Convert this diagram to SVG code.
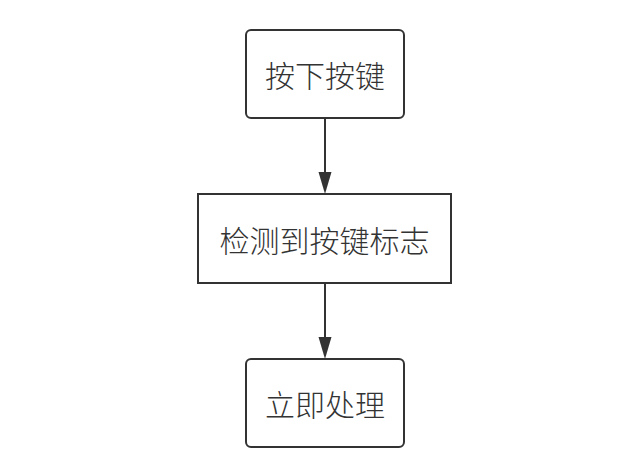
<svg xmlns="http://www.w3.org/2000/svg" width="622" height="472" viewBox="0 0 622 472">
<style>
.box{fill:#fff;stroke:#333;stroke-width:2}
.lbl{font-family:"Noto Sans CJK SC","Noto Sans",sans-serif;font-size:30px;font-weight:300;fill:#333;text-anchor:middle;dominant-baseline:central}
.edge{stroke:#333;stroke-width:2;fill:none}
.head{fill:#333}
</style>
<rect width="622" height="472" fill="#fff"/>
<g id="edges">
<path class="edge" d="M325,118 L325,172"/>
<path class="head" d="M318.5,172 L331.5,172 L325,194 z"/>
<path class="edge" d="M325,283 L325,337"/>
<path class="head" d="M318.5,337 L331.5,337 L325,359 z"/>
</g>
<g id="n1">
<rect class="box" x="246" y="30" width="158" height="88" rx="5"/>
<text class="lbl" x="325" y="74">按下按键</text>
</g>
<g id="n2">
<rect class="box" x="198" y="194" width="253" height="89"/>
<text class="lbl" x="324.5" y="238.5">检测到按键标志</text>
</g>
<g id="n3">
<rect class="box" x="246" y="359" width="158" height="88" rx="5"/>
<text class="lbl" x="325" y="403">立即处理</text>
</g>
</svg>
